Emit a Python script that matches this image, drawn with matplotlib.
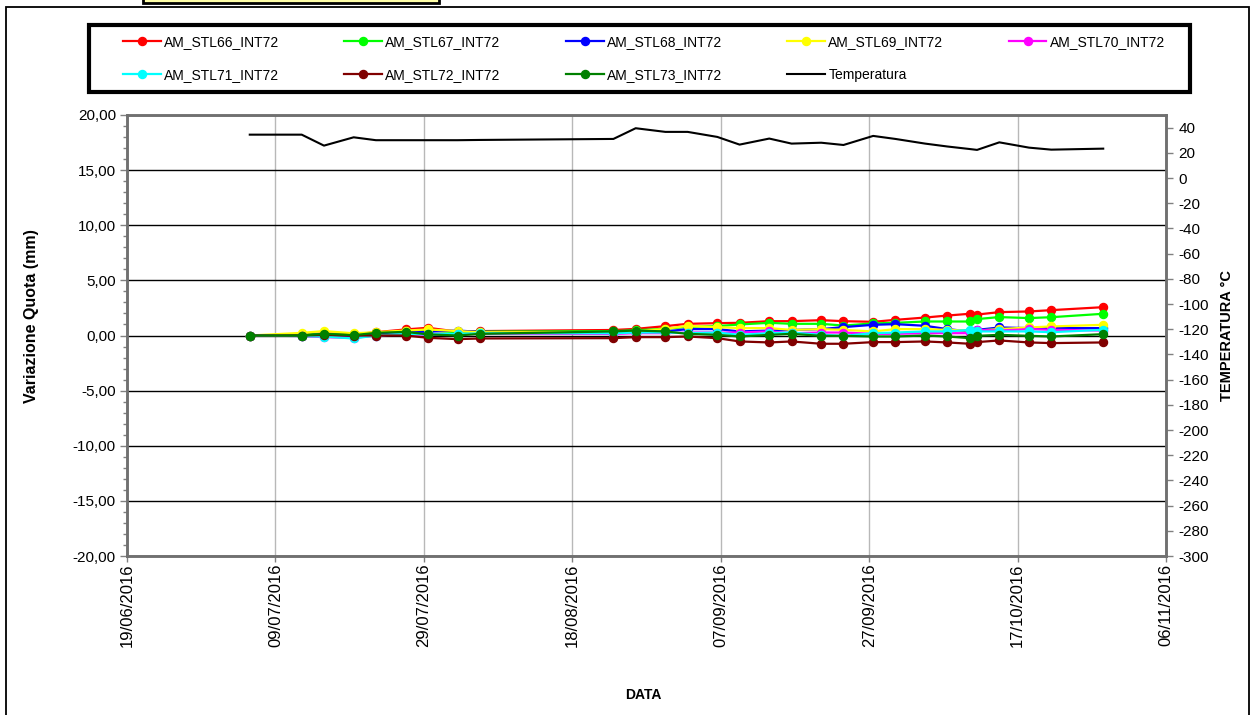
import matplotlib
matplotlib.use("Agg")
import matplotlib.pyplot as plt
import matplotlib.dates as mdates
from matplotlib.patches import Rectangle
from matplotlib.ticker import FuncFormatter, MultipleLocator, FixedLocator
import pandas as pd

plt.rcParams['font.family'] = ['Liberation Sans', 'DejaVu Sans']
plt.rcParams['axes.unicode_minus'] = False

# ---------------- data ----------------
dates = ['2016-07-05', '2016-07-12', '2016-07-15', '2016-07-19', '2016-07-22',
         '2016-07-26', '2016-07-29', '2016-08-02', '2016-08-05', '2016-08-23',
         '2016-08-26', '2016-08-30', '2016-09-02', '2016-09-06', '2016-09-09',
         '2016-09-13', '2016-09-16', '2016-09-20', '2016-09-23', '2016-09-27',
         '2016-09-30', '2016-10-04', '2016-10-07', '2016-10-10', '2016-10-11',
         '2016-10-14', '2016-10-18', '2016-10-21', '2016-10-28']
reading_time = '13:00'

stl66 = [0.00, 0.05, 0.20, 0.10, 0.30, 0.55, 0.70, 0.35, 0.40, 0.50, 0.60, 0.85, 1.06, 1.12, 1.15,
         1.30, 1.30, 1.39, 1.30, 1.24, 1.42, 1.63, 1.81, 1.97, 1.90, 2.12, 2.18, 2.30, 2.57]
stl67 = [0.00, 0.05, 0.15, 0.05, 0.25, 0.40, 0.45, 0.30, 0.35, 0.39, 0.48, 0.60, 0.79, 0.85, 1.00,
         1.15, 1.06, 1.06, 0.90, 1.10, 1.15, 1.27, 1.27, 1.27, 1.49, 1.67, 1.58, 1.66, 1.97]
stl68 = [0.00, 0.00, 0.10, 0.00, 0.20, 0.30, 0.35, 0.45, 0.33, 0.21, 0.25, 0.37, 0.58, 0.58, 0.37,
         0.45, 0.50, 0.58, 0.76, 0.97, 1.03, 0.88, 0.58, 0.37, 0.51, 0.73, 0.67, 0.67, 0.67]
stl69 = [0.00, 0.24, 0.40, 0.20, 0.30, 0.45, 0.55, 0.40, 0.30, 0.30, 0.37, 0.60, 0.88, 0.76, 0.67,
         0.67, 0.51, 0.58, 0.51, 0.37, 0.58, 0.58, 0.51, 0.45, 0.45, 0.58, 0.73, 0.82, 0.97]
stl70 = [0.00, -0.05, -0.15, -0.21, 0.00, 0.10, 0.05, 0.10, 0.15, 0.15, 0.21, 0.21, 0.27, 0.27, 0.27,
         0.37, 0.21, 0.27, 0.27, 0.15, 0.15, 0.21, 0.21, 0.21, 0.51, 0.45, 0.58, 0.52, 0.45]
stl71 = [0.00, -0.05, -0.10, -0.27, 0.00, 0.15, 0.10, 0.15, 0.20, 0.21, 0.27, 0.27, 0.21, 0.27, 0.06,
         0.21, 0.27, 0.06, -0.03, 0.21, 0.27, 0.37, 0.37, 0.51, 0.37, 0.37, 0.37, 0.30, 0.52]
stl72 = [0.00, 0.00, 0.05, 0.00, 0.00, 0.00, -0.21, -0.33, -0.27, -0.24, -0.15, -0.15, -0.09, -0.24, -0.54,
         -0.63, -0.54, -0.75, -0.75, -0.60, -0.60, -0.54, -0.63, -0.75, -0.60, -0.45, -0.63, -0.69, -0.63]
stl73 = [0.00, 0.00, 0.15, 0.03, 0.24, 0.33, 0.10, 0.00, 0.15, 0.37, 0.45, 0.37, 0.15, 0.06, -0.09,
         0.06, 0.15, -0.03, -0.03, -0.09, -0.09, 0.00, -0.09, -0.24, -0.03, 0.06, -0.03, -0.09, 0.12]
temperatura = [34.4, 34.4, 25.7, 32.3, 30.0, 30.0, 30.0, 30.0, 30.2, 31.0, 39.5, 36.6, 36.6, 32.6, 26.5,
               31.3, 27.3, 28.0, 26.2, 33.4, 31.0, 27.3, 25.0, 23.0, 22.3, 28.3, 24.1, 22.5, 23.3]

series_names = ['AM_STL66_INT72', 'AM_STL67_INT72', 'AM_STL68_INT72', 'AM_STL69_INT72',
                'AM_STL70_INT72', 'AM_STL71_INT72', 'AM_STL72_INT72', 'AM_STL73_INT72']
series_values = [stl66, stl67, stl68, stl69, stl70, stl71, stl72, stl73]
series_colors = ['#FF0000', '#00FF00', '#0000FF', '#FFFF00',
                 '#FF00FF', '#00FFFF', '#800000', '#008000']

x_start, x_end = '2016-06-19', '2016-11-06'
left_lim = (-20, 20)
right_lim = (-300, 50)

# ---------------- figure ----------------
W, H = 1255, 715
fig = plt.figure(figsize=(W / 100, H / 100), dpi=100)

def fx(px):
    return px / W

def fy(py):
    return 1 - py / H

# outer frame and title stub
fig.patches.append(Rectangle((fx(6), -0.02), fx(1249 - 6), fy(7) + 0.02, transform=fig.transFigure,
                             fill=False, edgecolor='black', lw=1.3, zorder=0))
fig.patches.append(Rectangle((fx(143), fy(3)), fx(296), 0.05, transform=fig.transFigure,
                             facecolor='#FFFFA8', edgecolor='black', lw=2, zorder=1))
# legend frame
fig.patches.append(Rectangle((fx(89), fy(92)), fx(1190 - 89), (92 - 25) / H, transform=fig.transFigure,
                             facecolor='white', edgecolor='black', lw=3, zorder=1))

ax = fig.add_axes([fx(127), fy(556), fx(1166 - 127), (556 - 115) / H])
x = pd.to_datetime([d + ' ' + reading_time for d in dates])

handles = []
for name, vals, col in zip(series_names, series_values, series_colors):
    h, = ax.plot(x, vals, color=col, lw=1.6, marker='o', markersize=5.8,
                 markeredgecolor=col, markerfacecolor=col, label=name, zorder=3)
    handles.append(h)

ax.set_ylim(*left_lim)
ax.set_xlim(pd.Timestamp(x_start), pd.Timestamp(x_end))
ax.yaxis.set_major_locator(MultipleLocator(5))
ax.yaxis.set_minor_locator(MultipleLocator(1))
ax.yaxis.set_major_formatter(FuncFormatter(lambda v, p: f'{v:.2f}'.replace('.', ',')))
xt = pd.date_range(x_start, x_end, freq='20D')
ax.xaxis.set_major_locator(FixedLocator(mdates.date2num(xt)))
ax.xaxis.set_major_formatter(mdates.DateFormatter('%d/%m/%Y'))
for lab in ax.get_xticklabels():
    lab.set_rotation(90)

ax.grid(axis='y', which='major', color='black', lw=1.0)
ax.grid(axis='x', which='major', color='#b8b8b8', lw=1.0)
ax.set_axisbelow(True)
ax.tick_params(axis='y', which='major', direction='out', length=5, width=1, color='#808080',
               labelsize=11, pad=3)
ax.tick_params(axis='y', which='minor', direction='out', length=3, width=1, color='#808080')
ax.tick_params(axis='x', which='major', direction='out', length=4, width=1, color='#808080',
               labelsize=12, pad=1.5)
for s in ax.spines.values():
    s.set_color('#707070')
    s.set_linewidth(1.8)

ax.set_ylabel('Variazione Quota (mm)', fontsize=11.5, fontweight='bold')
ax.yaxis.set_label_coords(-0.085, 0.545)

ax2 = ax.twinx()
ht, = ax2.plot(x, temperatura, color='black', lw=1.5, label='Temperatura', zorder=3)
ax2.set_ylim(*right_lim)
ax2.yaxis.set_major_locator(FixedLocator(list(range(-300, 41, 20))))
ax2.tick_params(axis='y', direction='out', length=5, width=1, color='#808080', labelsize=11, pad=4)
for s in ax2.spines.values():
    s.set_color('#707070')
    s.set_linewidth(1.8)
ax2.set_ylabel('TEMPERATURA °C', fontsize=10.5, fontweight='bold')
ax2.yaxis.set_label_coords(1.052, 0.5)

fig.text(fx(643), fy(695), 'DATA', fontsize=10, fontweight='bold', ha='center', va='center')

# legend (column-major order to get the row layout of the reference)
order = [0, 5, 1, 6, 2, 7, 3, 8, 4]
all_handles = handles + [ht]
lg_handles = [all_handles[i] for i in order]
leg = fig.legend(lg_handles, [h.get_label() for h in lg_handles],
                 loc='center', bbox_to_anchor=(fx(123), fy(92), fx(1165 - 123), (92 - 25) / H),
                 mode='expand', ncol=5, frameon=False, fontsize=10, borderpad=0,
                 borderaxespad=0, handlelength=2.7, handletextpad=0.25, labelspacing=1.35,
                 numpoints=1)
leg.set_zorder(2)

fig.savefig('out.png', dpi=100)
